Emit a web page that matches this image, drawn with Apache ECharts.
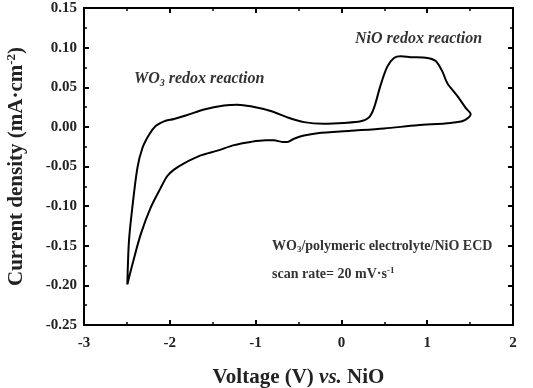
<!DOCTYPE html>
<html>
<head>
<meta charset="utf-8">
<script src="https://cdn.jsdelivr.net/npm/echarts@6/dist/echarts.min.js"></script>
<style>
  html, body { margin: 0; padding: 0; background: #fff; }
  #chart { width: 533px; height: 388px; }
</style>
</head>
<body>
<div id="chart"></div>
<script>
// cyclic voltammogram (V vs. NiO, mA/cm2)
// anodic branch from -2.5 V up to 1.5 V
const fwdVoltage = [-2.495, -2.476, -2.437, -2.378, -2.320, -2.242, -2.165, -2.068, -1.951, -1.796,
  -1.601, -1.368, -1.213, -1.057, -0.824, -0.630, -0.436, -0.203, 0.030, 0.225,
  0.322, 0.380, 0.458, 0.535, 0.613, 0.691, 0.807, 1.002, 1.099, 1.176,
  1.235, 1.351, 1.448, 1.507]
const fwdCurrent = [-0.199, -0.144, -0.102, -0.052, -0.027, -0.010, 0.001, 0.007, 0.010, 0.015,
  0.022, 0.027, 0.028, 0.026, 0.020, 0.012, 0.006, 0.004, 0.005, 0.007,
  0.012, 0.024, 0.053, 0.076, 0.087, 0.089, 0.088, 0.087, 0.083, 0.070,
  0.055, 0.039, 0.024, 0.016]
// cathodic branch back to -2.5 V
const revVoltage = [1.429, 1.273, 0.885, 0.497, 0.108, -0.280, -0.436, -0.552, -0.630, -0.688,
  -0.786, -0.883, -1.057, -1.252, -1.446, -1.640, -1.834, -1.951, -2.029, -2.106,
  -2.223, -2.340, -2.437, -2.495]
const revCurrent = [0.008, 0.005, 0.002, -0.002, -0.005, -0.008, -0.011, -0.015, -0.019, -0.019,
  -0.017, -0.017, -0.019, -0.023, -0.030, -0.036, -0.046, -0.054, -0.062, -0.077,
  -0.102, -0.136, -0.174, -0.199]

const serif = '"Liberation Serif", "Times New Roman", serif'

const curve = fwdVoltage.map((v, i) => [v, fwdCurrent[i]])
  .concat(revVoltage.map((v, i) => [v, revCurrent[i]]))

const chart = echarts.init(document.getElementById('chart'))

const tickStyle = { inside: true, length: 5, lineStyle: { color: '#000', width: 2 } }
const minorStyle = { show: true, splitNumber: 2, length: 3, lineStyle: { color: '#000', width: 1.5 } }

chart.setOption({
  animation: false,
  grid: { left: 84, right: 20, top: 8, bottom: 63, outerBoundsMode: 'none', containLabel: false },
  xAxis: [{
    type: 'value',
    min: -3,
    max: 2,
    interval: 1,
    name: '{b|Voltage (V) }{i|vs.}{b| NiO}',
    nameLocation: 'middle',
    nameGap: 42,
    nameTextStyle: {
      rich: {
        b: { fontFamily: serif, fontWeight: 'bold', fontSize: 21, color: '#222' },
        i: { fontFamily: serif, fontWeight: 'bold', fontStyle: 'italic', fontSize: 21, color: '#222' }
      }
    },
    axisLine: { onZero: false, lineStyle: { color: '#000', width: 2 } },
    axisTick: tickStyle,
    minorTick: minorStyle,
    splitLine: { show: false },
    axisLabel: { margin: 11, fontFamily: serif, fontWeight: 'bold', fontSize: 15, color: '#222' }
  }, {
    type: 'value',
    position: 'top',
    min: -3,
    max: 2,
    interval: 1,
    axisLine: { onZero: false, lineStyle: { color: '#000', width: 2 } },
    axisTick: tickStyle,
    minorTick: minorStyle,
    splitLine: { show: false },
    axisLabel: { show: false }
  }],
  yAxis: [{
    type: 'value',
    min: -0.25,
    max: 0.15,
    interval: 0.05,
    name: '{b|Current density (mA·cm}{s|-2}{b|)}',
    nameLocation: 'middle',
    nameGap: 56,
    nameTextStyle: {
      rich: {
        b: { fontFamily: serif, fontWeight: 'bold', fontSize: 21, color: '#222' },
        s: { fontFamily: serif, fontWeight: 'bold', fontSize: 13, color: '#222', verticalAlign: 'top', padding: [0, 0, 10, 0] }
      }
    },
    axisLine: { onZero: false, lineStyle: { color: '#000', width: 2 } },
    axisTick: tickStyle,
    minorTick: minorStyle,
    splitLine: { show: false },
    axisLabel: {
      margin: 7,
      fontFamily: serif,
      fontWeight: 'bold',
      fontSize: 15,
      color: '#222',
      formatter: v => v.toFixed(2)
    }
  }, {
    type: 'value',
    position: 'right',
    min: -0.25,
    max: 0.15,
    interval: 0.05,
    axisLine: { onZero: false, lineStyle: { color: '#000', width: 2 } },
    axisTick: tickStyle,
    minorTick: minorStyle,
    splitLine: { show: false },
    axisLabel: { show: false }
  }],
  series: [{
    type: 'line',
    data: curve,
    smooth: 0.3,
    showSymbol: false,
    lineStyle: { color: '#000', width: 2 }
  }],
  graphic: [{
    type: 'text',
    left: 134,
    top: 71,
    style: {
      text: '{t|WO}{s|3}{t| redox reaction}',
      rich: {
        t: { fontFamily: serif, fontWeight: 'bold', fontStyle: 'italic', fontSize: 16, fill: '#333' },
        s: { fontFamily: serif, fontWeight: 'bold', fontStyle: 'italic', fontSize: 10, fill: '#333', verticalAlign: 'bottom', padding: [9, 0, 0, 0] }
      }
    }
  }, {
    type: 'text',
    left: 355,
    top: 31,
    style: {
      text: 'NiO redox reaction',
      font: 'italic bold 16px "Liberation Serif", serif',
      fill: '#333'
    }
  }, {
    type: 'text',
    left: 272,
    top: 239,
    style: {
      text: '{t|WO}{s|3}{t|/polymeric electrolyte/NiO ECD}',
      rich: {
        t: { fontFamily: serif, fontWeight: 'bold', fontSize: 14, fill: '#333' },
        s: { fontFamily: serif, fontWeight: 'bold', fontSize: 9, fill: '#333', verticalAlign: 'bottom', padding: [8, 0, 0, 0] }
      }
    }
  }, {
    type: 'text',
    left: 272,
    top: 266,
    style: {
      text: '{t|scan rate= 20 mV·s}{s|-1}',
      rich: {
        t: { fontFamily: serif, fontWeight: 'bold', fontSize: 14, fill: '#333' },
        s: { fontFamily: serif, fontWeight: 'bold', fontSize: 9, fill: '#333', verticalAlign: 'top', padding: [0, 0, 7, 0] }
      }
    }
  }]
})
</script>
</body>
</html>
